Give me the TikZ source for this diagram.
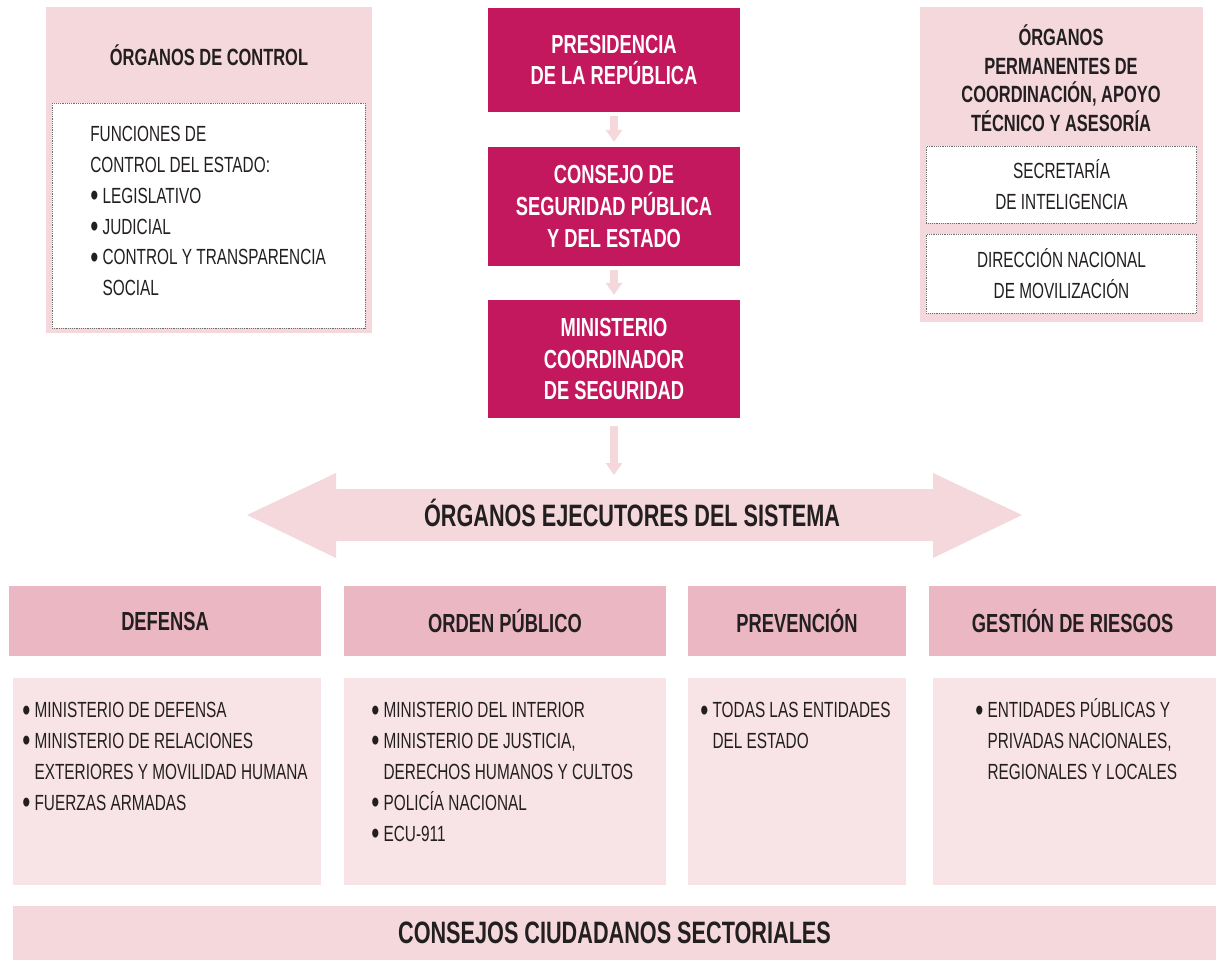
\documentclass[tikz,border=0pt]{standalone}
\usepackage{graphicx}
\usepackage{fontspec}
\setmainfont{Liberation Sans}[FakeStretch=0.7]
\usetikzlibrary{arrows.meta}

\definecolor{fucsia}{RGB}{196,24,94}
\definecolor{rosaclaro}{RGB}{244,216,220}
\definecolor{rosamedio}{RGB}{235,183,194}
\definecolor{rosapalido}{RGB}{248,228,231}
\definecolor{tinta}{RGB}{35,31,32}
\definecolor{punteado}{RGB}{110,110,110}

\newcommand{\txtbody}{\fontsize{15.6}{22}\selectfont}
\newcommand{\txthead}{\fontsize{16.7}{20.3}\selectfont\bfseries}
\newcommand{\txtmid}{\fontsize{18.6}{22.6}\selectfont\bfseries}
\newcommand{\txtbig}{\fontsize{22}{24}\selectfont\bfseries}
\newcommand{\bul}{\raisebox{-0.16em}{\scalebox{1.5}{\textbullet}}\ }
\newcommand{\sang}{\hphantom{\bul}}

\tikzset{
  magbox/.style={fill=fucsia, text=white, font=\txtmid, align=center, minimum width=6.3cm, inner sep=0pt},
  dotline/.style={draw=punteado, fill=white, line width=0.5pt, dash pattern=on 0.5pt off 0.8pt},
  dotbox/.style={dotline, text=tinta, font=\txtbody, align=center, inner sep=0pt, minimum width=6.75cm},
  colhead/.style={fill=rosamedio, text=tinta, font=\txtmid, minimum height=1.75cm, inner sep=0pt},
  colbody/.style={fill=rosapalido, minimum height=5.175cm, inner sep=0pt},
  bodytext/.style={anchor=north west, align=left, inner sep=0pt, text=tinta, font=\txtbody},
  flecha/.style={draw=rosaclaro, line width=0.2cm, -{Triangle[width=0.4cm,length=0.3cm]}, shorten <=0.1cm, shorten >=0.12cm}
}

\begin{document}
\begin{tikzpicture}[x=0.025cm,y=-0.025cm]
\useasboundingbox (0,0) rectangle (1216,961);

% columna central
\node[magbox, minimum height=2.6cm] (presidencia) at (614,60) {PRESIDENCIA\\DE LA REPÚBLICA};
\node[magbox, minimum height=2.975cm] (consejo) at (614,206.5) {CONSEJO DE\\SEGURIDAD PÚBLICA\\Y DEL ESTADO};
\node[magbox, minimum height=2.95cm] (ministerio) at (614,359) {MINISTERIO\\COORDINADOR\\DE SEGURIDAD};
\coordinate (ejecsup) at (614,475);
\draw[flecha] (presidencia.south) -- (consejo.north);
\draw[flecha] (consejo.south) -- (ministerio.north);
\draw[flecha, shorten >=0pt, shorten <=0.2cm] (ministerio.south) -- (ejecsup);

% organos de control
\fill[rosaclaro] (46,7) rectangle (372,333);
\node[text=tinta, font=\txthead] (control) at (209,55) {ÓRGANOS DE CONTROL};
\draw[dotline] (52,103) rectangle (365,328);
\node[anchor=west, align=left, text=tinta, font=\txtbody, inner sep=0pt] (funciones) at (90,211) {FUNCIONES DE\\CONTROL DEL ESTADO:\\\bul LEGISLATIVO\\\bul JUDICIAL\\\bul CONTROL Y TRANSPARENCIA\\\sang SOCIAL};

% organos permanentes
\fill[rosaclaro] (920,7) rectangle (1203,322);
\node[text=tinta, font=\txthead, align=center] (permanentes) at (1061,78) {ÓRGANOS\\PERMANENTES DE\\COORDINACIÓN, APOYO\\TÉCNICO Y ASESORÍA};
\node[dotbox, minimum height=1.925cm] (secretaria) at (1061.5,184.5) {SECRETARÍA\\DE INTELIGENCIA};
\node[dotbox, minimum height=1.975cm] (direccion) at (1061.5,273.5) {DIRECCIÓN NACIONAL\\DE MOVILIZACIÓN};

% organos ejecutores
\fill[rosaclaro] (247,515) -- (336,473) -- (336,489) -- (933,489) -- (933,473) -- (1022,515)
  -- (933,558) -- (933,541) -- (336,541) -- (336,558) -- cycle;
\node[text=tinta, font=\txtbig] (ejecutores) at (632,513) {ÓRGANOS EJECUTORES DEL SISTEMA};

% sectores
\node[colhead, minimum width=7.8cm] (defensa) at (165,621) {DEFENSA};
\node[colhead, minimum width=8.05cm] (orden) at (505,621) {ORDEN PÚBLICO};
\node[colhead, minimum width=5.45cm] (prevencion) at (797,621) {PREVENCIÓN};
\node[colhead, minimum width=7.175cm] (gestion) at (1072.5,621) {GESTIÓN DE RIESGOS};

\node[colbody, minimum width=7.7cm] (defensabody) at (167,781.5) {};
\node[colbody, minimum width=8.05cm] (ordenbody) at (505,781.5) {};
\node[colbody, minimum width=5.45cm] (prevencionbody) at (797,781.5) {};
\node[colbody, minimum width=7.075cm] (gestionbody) at (1074.5,781.5) {};

\node[bodytext] (defensatxt) at (22,695.6) {\strut\bul MINISTERIO DE DEFENSA\\\bul MINISTERIO DE RELACIONES\\\sang EXTERIORES Y MOVILIDAD HUMANA\\\bul FUERZAS ARMADAS};
\node[bodytext] (ordentxt) at (371,695.6) {\strut\bul MINISTERIO DEL INTERIOR\\\bul MINISTERIO DE JUSTICIA,\\\sang DERECHOS HUMANOS Y CULTOS\\\bul POLICÍA NACIONAL\\\bul ECU-911};
\node[bodytext] (prevenciontxt) at (700,695.6) {\strut\bul TODAS LAS ENTIDADES\\\sang DEL ESTADO};
\node[bodytext] (gestiontxt) at (975,695.6) {\strut\bul ENTIDADES PÚBLICAS Y\\\sang PRIVADAS NACIONALES,\\\sang REGIONALES Y LOCALES};

% consejos
\node[fill=rosaclaro, text=tinta, font=\txtbig, minimum width=30.075cm, minimum height=1.35cm, inner sep=0pt] (consejos) at (614.5,933) {CONSEJOS CIUDADANOS SECTORIALES};
\end{tikzpicture}
\end{document}
